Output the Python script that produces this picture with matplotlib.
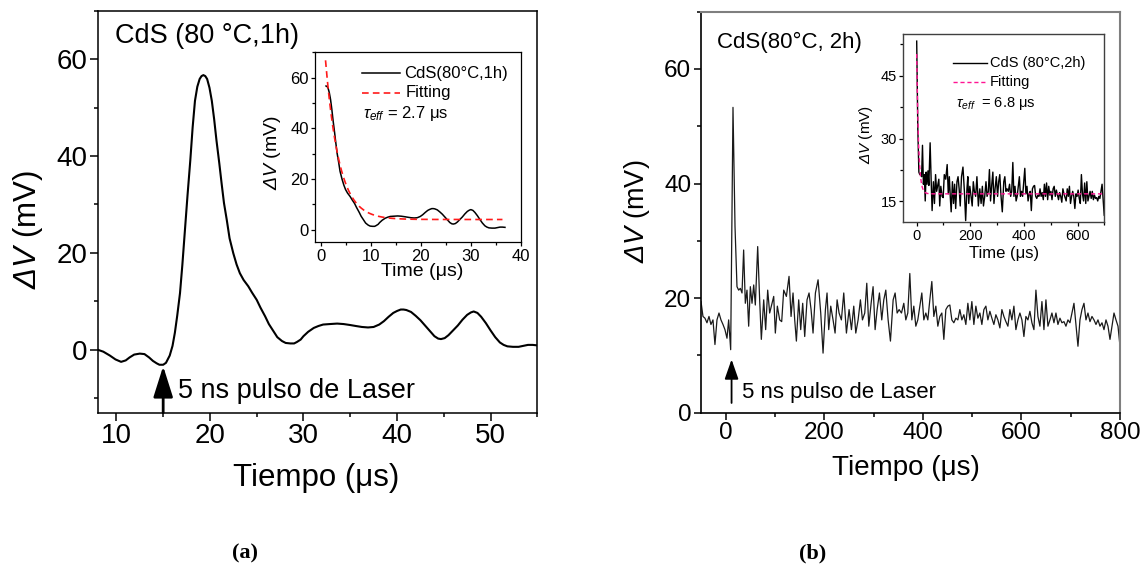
import numpy as np
import matplotlib
matplotlib.use("Agg")
import matplotlib.pyplot as plt
from matplotlib.ticker import MultipleLocator

plt.rcParams["font.family"] = ["Liberation Sans", "DejaVu Sans"]
plt.rcParams["mathtext.fontset"] = "custom"
# upright math glyphs (capital Greek) are set slanted so that ΔV reads in italics
plt.rcParams["mathtext.rm"] = "Liberation Sans:italic"
plt.rcParams["mathtext.it"] = "Liberation Sans:italic"
plt.rcParams["mathtext.bf"] = "Liberation Sans:bold"

# ---------------- (a) CdS 80 °C, 1 h ----------------
t_a = [8.0, 8.6, 9.3, 9.9, 10.5, 11.0, 11.4, 11.9, 12.5, 13.0, 13.5, 13.9,
       14.3, 14.6, 15.0, 15.3, 15.7, 16.0, 16.25, 16.5, 16.8, 17.05, 17.3,
       17.6, 17.9, 18.15, 18.4, 18.65, 18.9, 19.1, 19.3, 19.5, 19.7, 19.95,
       20.2, 20.45, 20.7, 21.0, 21.25, 21.5, 21.8, 22.1, 22.5, 22.85, 23.2,
       23.6, 24.1, 24.5, 25.0, 25.4, 25.9, 26.3, 26.8, 27.2, 27.7, 28.1, 28.6,
       29.0, 29.3, 29.7, 30.0, 30.5, 31.1, 31.6, 32.1, 32.8, 33.6, 34.3, 35.0,
       35.6, 36.25, 36.9, 37.5, 38.1, 38.6, 39.1, 39.6, 40.0, 40.4, 40.7, 41.0,
       41.5, 42.0, 42.5, 43.0, 43.5, 44.0, 44.4, 44.7, 45.1, 45.5, 46.0, 46.5,
       47.0, 47.5, 47.9, 48.2, 48.6, 49.0, 49.5, 50.0, 50.5, 51.0, 51.4, 51.8,
       52.4, 53.0, 53.5, 54.0, 54.5, 55.0]
v_a = [0.0, -0.4, -1.2, -2.0, -2.5, -2.2, -1.6, -1.0, -0.8, -0.9, -1.6, -2.3,
       -2.8, -3.1, -3.1, -2.7, -1.2, 0.8, 3.5, 7.0, 11.7, 17.5, 24.0,
       31.8, 39.1, 45.9, 51.4, 54.3, 55.9, 56.5, 56.7, 56.5, 55.9, 54.1,
       51.4, 47.6, 43.2, 38.5, 34.3, 30.3, 26.8, 23.0, 19.9, 17.6, 15.8,
       14.4, 13.1, 11.8, 10.3, 8.7, 6.9, 5.3, 3.8, 2.6, 1.8, 1.4, 1.3,
       1.3, 1.6, 2.1, 2.8, 3.7, 4.5, 4.9, 5.2, 5.3, 5.4, 5.3, 5.1,
       4.9, 4.7, 4.6, 4.7, 5.2, 5.9, 6.8, 7.6, 8.0, 8.3, 8.3, 8.2,
       7.8, 7.0, 6.1, 5.0, 3.9, 2.8, 2.3, 2.2, 2.4, 3.0, 4.0, 5.0,
       6.2, 7.2, 7.7, 7.9, 7.6, 6.8, 5.5, 4.0, 2.6, 1.5, 1.0, 0.7,
       0.6, 0.6, 0.8, 1.0, 1.0, 0.9]
laser_a = 15.0          # laser pulse time (µs)
decay_start_a = 19.3    # signal maximum, origin of the decay inset
inset_shift_a = 18.2    # time offset used on the inset axis
tau_a, amp_a, base_a = 2.7, 91.0, 4.0   # exponential fit, tau in µs
fit_range_a = (1.0, 36.3)

# ---------------- (b) CdS 80 °C, 2 h ----------------
t_b_head = [-50.0, -46.0, -42.0, -37.9, -33.8, -29.8, -25.7, -21.7, -17.6, -13.5,
            -9.5, -5.4, -1.4, 2.7, 6.1, 10.2, 14.9, 19.0, 23.0, 26.4, 29.8, 33.2,
            36.5, 39.9, 43.3, 46.7, 50.1, 53.5, 56.9, 60.2, 65.0, 69.0, 72.4, 77.2,
            81.2, 85.3, 89.3, 92.7, 97.5, 100.8, 104.9, 109.6, 113.7, 117.8, 123.2,
            128.6, 132.7, 136.7, 140.1, 143.5, 148.2, 152.3, 156.3, 160.4, 165.1,
            169.2, 173.3, 177.3, 182.1, 187.5, 192.9, 197.6, 202.4, 205.7, 209.1,
            213.2, 217.9, 222.0, 226.1, 230.1, 234.8, 239.6, 245.0, 250.4, 255.2,
            259.9, 264.0, 268.7, 273.4, 277.5, 282.2, 286.3, 290.4, 295.1, 299.1,
            303.2, 307.3, 312.0, 316.7, 320.8, 324.9, 329.6, 334.3, 339.8, 343.8,
            347.9, 351.9, 356.7, 361.4, 365.5, 369.5, 373.6, 377.7, 381.7, 385.8,
            389.8]
v_b_head = [19.4, 16.8, 16.5, 15.7, 16.8, 15.4, 16.2, 11.9, 16.2, 17.4, 16.2, 15.4,
            14.5, 13.0, 16.2, 11.0, 53.3, 32.5, 22.0, 21.4, 21.7, 20.9, 28.4, 19.1,
            21.4, 15.1, 22.0, 19.1, 22.3, 18.8, 29.0, 19.7, 12.8, 19.7, 14.5, 21.4,
            17.4, 18.6, 20.3, 13.9, 18.6, 16.2, 15.9, 21.4, 20.3, 23.8, 16.8, 20.9,
            16.2, 12.5, 19.7, 14.5, 19.1, 13.3, 19.7, 20.9, 18.0, 13.9, 20.9, 23.2,
            17.4, 10.4, 18.0, 20.9, 14.5, 18.6, 16.2, 13.9, 19.7, 17.4, 16.2, 20.9,
            13.9, 18.0, 14.5, 18.6, 13.9, 16.2, 19.7, 16.2, 17.4, 22.6, 15.1, 19.1,
            22.0, 14.5, 18.0, 20.9, 16.2, 19.7, 21.4, 16.2, 12.5, 19.7, 20.9, 17.4,
            18.0, 17.4, 19.1, 16.2, 17.4, 24.3, 16.2, 18.6, 15.1, 16.2]
# uniformly sampled record from 393.9 µs to the end of the trace
t_b_tail = np.linspace(393.9, 800.0, 101)
v_b_tail = [18.6, 20.9, 16.2, 17.4, 16.2, 19.7, 22.9, 16.8, 18.6, 15.1,
            16.8, 17.4, 12.8, 18.0, 18.6, 18.8, 16.2, 15.7, 16.5, 16.2,
            18.0, 16.2, 17.1, 15.4, 19.1, 16.2, 19.4, 15.4, 18.6, 16.5,
            17.4, 15.4, 18.0, 18.6, 16.2, 17.7, 16.5, 15.4, 17.1, 16.2,
            14.8, 18.0, 16.8, 15.9, 15.1, 18.0, 16.2, 18.6, 14.5, 16.2,
            17.4, 16.2, 13.3, 16.8, 16.2, 17.7, 15.7, 14.5, 21.4, 16.8,
            15.1, 19.4, 14.5, 19.7, 15.1, 16.2, 17.4, 15.7, 17.4, 15.4,
            16.5, 15.7, 15.9, 15.1, 16.2, 15.7, 17.4, 19.1, 15.4, 11.6,
            16.2, 18.0, 19.1, 16.2, 17.4, 15.9, 16.8, 16.2, 15.4, 16.2,
            15.1, 15.7, 14.5, 16.2, 15.1, 12.8, 15.1, 17.4, 16.2, 15.1,
            11.6]
laser_b = 12.0
decay_start_b = 14.9
tau_b, amp_b, base_b = 6.8, 33.4, 16.8
fit_range_b = (0.0, 700.0)

t_b = np.concatenate([t_b_head, t_b_tail])
v_b = np.concatenate([v_b_head, v_b_tail])
t_a = np.asarray(t_a)
v_a = np.asarray(v_a)

W, H = 1144, 583
fig = plt.figure(figsize=(W / 100, H / 100), dpi=100)


def box(l, t, r, b):
    return [l / W, 1 - b / H, (r - l) / W, (b - t) / H]


def style_ticks(ax, major, minor, width, labelsize, pad):
    ax.tick_params(which="both", direction="out", top=False, right=False,
                   width=width, pad=pad, labelsize=labelsize)
    ax.tick_params(which="major", length=major)
    ax.tick_params(which="minor", length=minor)


# ---------- panel (a) ----------
ax_a = fig.add_axes(box(97.7, 10.7, 537.3, 412.7))
ax_a.plot(t_a, v_a, color="black", lw=1.5)
ax_a.set_xlim(8, 55)
ax_a.set_ylim(-13, 70)
ax_a.xaxis.set_major_locator(MultipleLocator(10))
ax_a.xaxis.set_minor_locator(MultipleLocator(5))
ax_a.yaxis.set_major_locator(MultipleLocator(20))
ax_a.yaxis.set_minor_locator(MultipleLocator(10))
style_ticks(ax_a, 5.5, 3, 1.1, 20, 2)
for s in ax_a.spines.values():
    s.set_linewidth(1.1)
ax_a.set_xlabel("Tiempo (μs)", fontsize=22.5)
ax_a.xaxis.set_label_coords(0.498, -0.125)
ax_a.set_ylabel(r"$ΔV$ (mV)", fontsize=22.5)
ax_a.yaxis.set_label_coords(-0.12, 0.456)
ax_a.text(0.039, 0.92, "CdS (80 °C,1h)", transform=ax_a.transAxes,
          fontsize=19.5, va="baseline", ha="left")
ax_a.text(0.183, 0.0366, "5 ns pulso de Laser", transform=ax_a.transAxes,
          fontsize=19.5, va="baseline", ha="left")
ax_a.annotate("", xy=(laser_a, -3.4), xytext=(laser_a, -13),
              arrowprops=dict(arrowstyle="-|>,head_length=19,head_width=6",
                              mutation_scale=1, lw=2, color="black",
                              shrinkA=0, shrinkB=0))

# inset (a): decay with exponential fit
in_a = fig.add_axes(box(315, 52.3, 521, 242.3))
sel = t_a >= decay_start_a
in_a.plot(t_a[sel] - inset_shift_a, v_a[sel], color="black", lw=1.1)
tf = np.linspace(*fit_range_a, 200)
in_a.plot(tf, base_a + amp_a * np.exp(-tf / tau_a), color="#ff1a1a",
          lw=1.2, ls=(0, (4, 2.5)))
in_a.set_xlim(-1.1, 40)
in_a.set_ylim(-5, 70)
in_a.xaxis.set_major_locator(MultipleLocator(10))
in_a.xaxis.set_minor_locator(MultipleLocator(5))
in_a.yaxis.set_major_locator(MultipleLocator(20))
in_a.yaxis.set_minor_locator(MultipleLocator(10))
style_ticks(in_a, 3, 2, 0.9, 12, 1.5)
for s in in_a.spines.values():
    s.set_linewidth(0.9)
in_a.set_xlabel("Time (μs)", fontsize=14)
in_a.xaxis.set_label_coords(0.522, -0.11)
in_a.set_ylabel(r"$ΔV$ (mV)", fontsize=14)
in_a.yaxis.set_label_coords(-0.154, 0.473)
in_a.plot([0.2267, 0.4126], [0.8895, 0.8895], transform=in_a.transAxes,
          color="black", lw=1.1)
in_a.plot([0.2267, 0.4126], [0.787, 0.787], transform=in_a.transAxes,
          color="#ff1a1a", lw=1.2, ls=(0, (4, 2.5)))
in_a.text(0.4335, 0.8895, "CdS(80°C,1h)", transform=in_a.transAxes,
          fontsize=12, va="center", ha="left")
in_a.text(0.4417, 0.787, "Fitting", transform=in_a.transAxes,
          fontsize=12, va="center", ha="left")
in_a.text(0.2345, 0.654, r"$\tau_{eff}$ = 2.7 μs", transform=in_a.transAxes,
          fontsize=12, va="baseline", ha="left")

# ---------- panel (b) ----------
ax_b = fig.add_axes(box(701, 11.7, 1120, 412.7))
ax_b.plot(t_b, v_b, color="#1a1a1a", lw=0.9)
ax_b.set_xlim(-50, 800)
ax_b.set_ylim(0, 70)
ax_b.xaxis.set_major_locator(MultipleLocator(200))
ax_b.xaxis.set_minor_locator(MultipleLocator(100))
ax_b.yaxis.set_major_locator(MultipleLocator(20))
ax_b.yaxis.set_minor_locator(MultipleLocator(10))
style_ticks(ax_b, 5, 3, 1.1, 17.5, 2)
for k in ("left", "bottom"):
    ax_b.spines[k].set_linewidth(1.2)
for k in ("top", "right"):
    ax_b.spines[k].set_linewidth(1.5)
    ax_b.spines[k].set_color("#7f7f7f")
ax_b.set_xlabel("Tiempo (μs)", fontsize=20)
ax_b.xaxis.set_label_coords(0.49, -0.105)
ax_b.set_ylabel(r"$ΔV$ (mV)", fontsize=19.5)
ax_b.yaxis.set_label_coords(-0.118, 0.503)
ax_b.text(0.0375, 0.909, "CdS(80°C, 2h)", transform=ax_b.transAxes,
          fontsize=16, va="baseline", ha="left")
ax_b.text(0.097, 0.036, "5 ns pulso de Laser", transform=ax_b.transAxes,
          fontsize=16, va="baseline", ha="left")
ax_b.annotate("", xy=(laser_b, 9.3), xytext=(laser_b, 1.7),
              arrowprops=dict(arrowstyle="-|>,head_length=12,head_width=4.2",
                              mutation_scale=1, lw=1.3, color="black",
                              shrinkA=0, shrinkB=0))

# inset (b)
in_b = fig.add_axes(box(903.3, 34, 1104.3, 222.3))
selb = t_b >= decay_start_b
in_b.plot(t_b[selb] - decay_start_b, v_b[selb], color="black", lw=1.0)
tfb = np.linspace(*fit_range_b, 400)
in_b.plot(tfb, base_b + amp_b * np.exp(-tfb / tau_b), color="#ff1493",
          lw=1.0, ls=(0, (3, 2)))
in_b.set_xlim(-50, 700)
in_b.set_ylim(10, 55)
in_b.xaxis.set_major_locator(MultipleLocator(200))
in_b.xaxis.set_minor_locator(MultipleLocator(100))
in_b.yaxis.set_major_locator(MultipleLocator(15))
in_b.yaxis.set_minor_locator(MultipleLocator(7.5))
style_ticks(in_b, 3, 2, 0.9, 10.5, 1.5)
for s in in_b.spines.values():
    s.set_linewidth(1.0)
    s.set_color("#404040")
in_b.set_xlabel("Time (μs)", fontsize=12)
in_b.xaxis.set_label_coords(0.501, -0.125)
in_b.set_ylabel(r"$ΔV$ (mV)", fontsize=11)
in_b.yaxis.set_label_coords(-0.141, 0.464)
in_b.plot([0.249, 0.415], [0.844, 0.844], transform=in_b.transAxes,
          color="black", lw=1.0)
in_b.plot([0.249, 0.415], [0.747, 0.747], transform=in_b.transAxes,
          color="#ff1493", lw=1.0, ls=(0, (3, 2)))
in_b.text(0.431, 0.844, "CdS (80°C,2h)", transform=in_b.transAxes,
          fontsize=10.5, va="center", ha="left")
in_b.text(0.431, 0.747, "Fitting", transform=in_b.transAxes,
          fontsize=10.5, va="center", ha="left")
in_b.text(0.262, 0.614, r"$\tau_{eff}$  = 6.8 μs", transform=in_b.transAxes,
          fontsize=10.5, va="baseline", ha="left")

# panel captions
fig.text(245 / W, 1 - 553 / H, "(a)", fontsize=16, fontweight="bold",
         family="Liberation Serif", ha="center", va="center")
fig.text(813 / W, 1 - 553 / H, "(b)", fontsize=16, fontweight="bold",
         family="Liberation Serif", ha="center", va="center")

fig.savefig("out.png", dpi=100)
